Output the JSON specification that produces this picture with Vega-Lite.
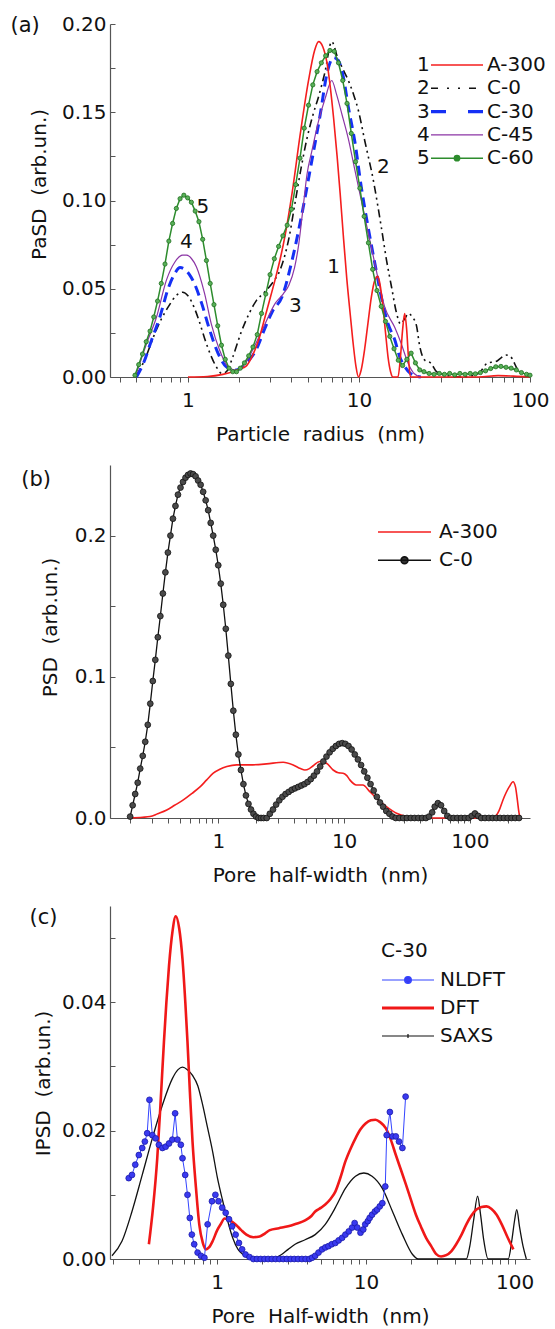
{
  "$schema": "https://vega.github.io/schema/vega-lite/v6.json",
  "background": "white",
  "padding": {"left": 10, "top": 14, "right": 5, "bottom": 5},
  "spacing": 21,
  "resolve": {"scale": {"color": "independent"}, "legend": {"color": "independent"}},
  "config": {
    "font": "DejaVu Sans",
    "view": {"stroke": null},
    "axis": {"grid": false, "domainColor": "#555", "domainWidth": 1.2, "tickColor": "#555", "tickWidth": 1, "labelColor": "#111", "titleColor": "#111", "labelFontSize": 20, "titleFontSize": 20, "titleFontWeight": "normal", "labelFlush": false, "labelOverlap": false, "labelBound": false},
    "axisX": {"tickSize": 5, "labelPadding": 8, "titlePadding": 14},
    "axisY": {"tickSize": -5, "labelPadding": 9},
    "legend": {"orient": "none", "padding": 0, "labelFontSize": 20, "labelColor": "#111", "titleColor": "#111", "titleFontSize": 20, "titleFontWeight": "normal", "symbolType": "stroke"},
    "title": {"anchor": "start", "frame": "bounds", "fontSize": 21, "fontWeight": "normal", "color": "#111", "baseline": "bottom"}
  },
  "datasets": {
    "aA": [{"x":1.0,"y":0},{"x":1.3,"y":0.0003},{"x":1.6,"y":0.0015},{"x":1.83,"y":0.003},{"x":2.0,"y":0.0045},{"x":2.18,"y":0.006},{"x":2.38,"y":0.012},{"x":2.61,"y":0.022},{"x":2.84,"y":0.035},{"x":3.05,"y":0.046},{"x":3.25,"y":0.056},{"x":3.5,"y":0.069},{"x":3.71,"y":0.081},{"x":4.06,"y":0.104},{"x":4.54,"y":0.138},{"x":5.07,"y":0.168},{"x":5.5,"y":0.185},{"x":5.81,"y":0.19},{"x":6.15,"y":0.187},{"x":6.5,"y":0.178},{"x":6.8,"y":0.164},{"x":7.1,"y":0.147},{"x":7.45,"y":0.125},{"x":7.76,"y":0.104},{"x":8.1,"y":0.08},{"x":8.48,"y":0.056},{"x":8.9,"y":0.035},{"x":9.27,"y":0.018},{"x":9.6,"y":0.006},{"x":9.92,"y":0},{"x":10.3,"y":0.004},{"x":10.8,"y":0.016},{"x":11.3,"y":0.031},{"x":11.8,"y":0.045},{"x":12.4,"y":0.055},{"x":12.9,"y":0.057},{"x":13.4,"y":0.05},{"x":13.8,"y":0.04},{"x":14.3,"y":0.025},{"x":14.8,"y":0.011},{"x":15.3,"y":0.003},{"x":15.8,"y":0},{"x":16.9,"y":0},{"x":17.5,"y":0.012},{"x":18.0,"y":0.027},{"x":18.5,"y":0.036},{"x":19.0,"y":0.027},{"x":19.5,"y":0.01},{"x":20.0,"y":0},{"x":30,"y":0},{"x":50,"y":0},{"x":65,"y":0.0008},{"x":80,"y":0.0005},{"x":100,"y":0}],
    "aC0": [{"x":0.5,"y":0.001},{"x":0.56,"y":0.01},{"x":0.63,"y":0.023},{"x":0.7,"y":0.033},{"x":0.77,"y":0.04},{"x":0.85,"y":0.046},{"x":0.93,"y":0.048},{"x":1.0,"y":0.046},{"x":1.08,"y":0.04},{"x":1.16,"y":0.032},{"x":1.25,"y":0.022},{"x":1.35,"y":0.013},{"x":1.46,"y":0.006},{"x":1.58,"y":0.002},{"x":1.68,"y":0.003},{"x":1.83,"y":0.0115},{"x":2.04,"y":0.025},{"x":2.28,"y":0.036},{"x":2.5,"y":0.043},{"x":2.8,"y":0.048},{"x":3.1,"y":0.053},{"x":3.5,"y":0.062},{"x":3.9,"y":0.079},{"x":4.25,"y":0.1},{"x":4.6,"y":0.119},{"x":4.96,"y":0.135},{"x":5.4,"y":0.149},{"x":5.81,"y":0.159},{"x":6.3,"y":0.172},{"x":6.93,"y":0.19},{"x":7.5,"y":0.181},{"x":8.0,"y":0.175},{"x":8.66,"y":0.168},{"x":9.3,"y":0.16},{"x":9.92,"y":0.151},{"x":10.8,"y":0.134},{"x":12.1,"y":0.112},{"x":13.5,"y":0.085},{"x":14.5,"y":0.066},{"x":15.5,"y":0.051},{"x":16.6,"y":0.036},{"x":17.5,"y":0.03},{"x":18.5,"y":0.033},{"x":19.5,"y":0.036},{"x":20.5,"y":0.034},{"x":21.7,"y":0.029},{"x":22.6,"y":0.018},{"x":24.2,"y":0.0096},{"x":26.4,"y":0.0077},{"x":28.4,"y":0.003},{"x":32,"y":0.001},{"x":40,"y":0},{"x":50,"y":0.002},{"x":56.6,"y":0.008},{"x":63,"y":0.0087},{"x":68,"y":0.011},{"x":72.3,"y":0.0125},{"x":77,"y":0.0115},{"x":85,"y":0.004},{"x":95,"y":0.001}],
    "aC30": [{"x":0.5,"y":0},{"x":0.55,"y":0.008},{"x":0.613,"y":0.021},{"x":0.685,"y":0.034},{"x":0.765,"y":0.05},{"x":0.83,"y":0.058},{"x":0.9,"y":0.062},{"x":0.957,"y":0.061},{"x":1.02,"y":0.058},{"x":1.09,"y":0.053},{"x":1.2,"y":0.042},{"x":1.34,"y":0.0266},{"x":1.5,"y":0.0134},{"x":1.67,"y":0.006},{"x":1.91,"y":0.004},{"x":2.18,"y":0.0077},{"x":2.5,"y":0.0153},{"x":2.8,"y":0.027},{"x":3.11,"y":0.037},{"x":3.55,"y":0.0455},{"x":4.06,"y":0.066},{"x":4.65,"y":0.093},{"x":5.31,"y":0.123},{"x":5.94,"y":0.149},{"x":6.5,"y":0.172},{"x":7.1,"y":0.181},{"x":7.6,"y":0.179},{"x":8.1,"y":0.17},{"x":8.66,"y":0.153},{"x":9.47,"y":0.133},{"x":10.3,"y":0.108},{"x":11.3,"y":0.085},{"x":12.4,"y":0.064},{"x":13.5,"y":0.0455},{"x":14.8,"y":0.03},{"x":16.2,"y":0.021},{"x":17.3,"y":0.0115},{"x":18.5,"y":0.006},{"x":20,"y":0.002},{"x":23,"y":0}],
    "aC45": [{"x":0.5,"y":0.002},{"x":0.573,"y":0.019},{"x":0.655,"y":0.034},{"x":0.749,"y":0.055},{"x":0.837,"y":0.065},{"x":0.93,"y":0.069},{"x":0.98,"y":0.069},{"x":1.05,"y":0.067},{"x":1.12,"y":0.0625},{"x":1.25,"y":0.0474},{"x":1.37,"y":0.03},{"x":1.53,"y":0.0153},{"x":1.71,"y":0.006},{"x":1.91,"y":0.004},{"x":2.1,"y":0.006},{"x":2.38,"y":0.015},{"x":2.73,"y":0.027},{"x":3.25,"y":0.042},{"x":3.6,"y":0.047},{"x":3.89,"y":0.052},{"x":4.2,"y":0.062},{"x":4.44,"y":0.075},{"x":4.7,"y":0.095},{"x":4.97,"y":0.115},{"x":5.3,"y":0.128},{"x":5.8,"y":0.145},{"x":6.35,"y":0.158},{"x":6.93,"y":0.168},{"x":7.4,"y":0.16},{"x":7.94,"y":0.149},{"x":8.66,"y":0.135},{"x":9.47,"y":0.117},{"x":10.8,"y":0.091},{"x":12.4,"y":0.064},{"x":14.1,"y":0.04},{"x":16.2,"y":0.028},{"x":17.5,"y":0.02},{"x":19.4,"y":0.0077},{"x":21,"y":0.002},{"x":23,"y":0}],
    "aC60": [{"x":0.49,"y":0.001},{"x":0.515,"y":0.007},{"x":0.542,"y":0.013},{"x":0.57,"y":0.02},{"x":0.6,"y":0.026},{"x":0.631,"y":0.034},{"x":0.664,"y":0.043},{"x":0.698,"y":0.053},{"x":0.734,"y":0.064},{"x":0.773,"y":0.077},{"x":0.813,"y":0.087},{"x":0.855,"y":0.0955},{"x":0.899,"y":0.101},{"x":0.946,"y":0.103},{"x":0.995,"y":0.1015},{"x":1.047,"y":0.099},{"x":1.102,"y":0.094},{"x":1.159,"y":0.088},{"x":1.219,"y":0.078},{"x":1.282,"y":0.066},{"x":1.349,"y":0.053},{"x":1.419,"y":0.041},{"x":1.493,"y":0.029},{"x":1.57,"y":0.018},{"x":1.652,"y":0.01},{"x":1.738,"y":0.005},{"x":1.828,"y":0.003},{"x":1.923,"y":0.003},{"x":2.023,"y":0.005},{"x":2.138,"y":0.008},{"x":2.265,"y":0.012},{"x":2.399,"y":0.017},{"x":2.541,"y":0.024},{"x":2.692,"y":0.036},{"x":2.851,"y":0.047},{"x":3.02,"y":0.058},{"x":3.199,"y":0.067},{"x":3.388,"y":0.074},{"x":3.589,"y":0.08},{"x":3.802,"y":0.086},{"x":4.027,"y":0.095},{"x":4.266,"y":0.109},{"x":4.519,"y":0.124},{"x":4.786,"y":0.141},{"x":5.07,"y":0.154},{"x":5.37,"y":0.1655},{"x":5.689,"y":0.173},{"x":6.026,"y":0.178},{"x":6.383,"y":0.182},{"x":6.761,"y":0.185},{"x":7.161,"y":0.1845},{"x":7.586,"y":0.178},{"x":8.035,"y":0.168},{"x":8.511,"y":0.155},{"x":9.016,"y":0.138},{"x":9.55,"y":0.122},{"x":10.12,"y":0.107},{"x":10.72,"y":0.091},{"x":11.35,"y":0.076},{"x":12.02,"y":0.061},{"x":12.74,"y":0.049},{"x":13.49,"y":0.04},{"x":14.29,"y":0.0315},{"x":15.14,"y":0.023},{"x":16.03,"y":0.016},{"x":16.98,"y":0.0095},{"x":17.99,"y":0.0065},{"x":19.05,"y":0.01},{"x":20.18,"y":0.0135},{"x":21.38,"y":0.008},{"x":22.65,"y":0.004},{"x":23.99,"y":0.003},{"x":25.7,"y":0.002},{"x":27.5,"y":0.0015},{"x":29.5,"y":0.002},{"x":31.6,"y":0.0015},{"x":33.9,"y":0.002},{"x":36.3,"y":0.0012},{"x":38.9,"y":0.002},{"x":41.7,"y":0.0015},{"x":44.7,"y":0.002},{"x":47.9,"y":0.0018},{"x":51.3,"y":0.0025},{"x":55.0,"y":0.0035},{"x":58.9,"y":0.0048},{"x":63.1,"y":0.0058},{"x":67.6,"y":0.006},{"x":72.4,"y":0.0055},{"x":77.6,"y":0.005},{"x":83.2,"y":0.004},{"x":89.1,"y":0.0025},{"x":95.5,"y":0.0015},{"x":100,"y":0.001}],
    "aNum": [{"x":7.1,"y":0.0625,"t":"1"},{"x":13.9,"y":0.119,"t":"2"},{"x":4.25,"y":0.04,"t":"3"},{"x":0.98,"y":0.0767,"t":"4"},{"x":1.22,"y":0.0965,"t":"5"}],
    "bA": [{"x":0.2,"y":0},{"x":0.25,"y":0.0005},{"x":0.287,"y":0.001},{"x":0.33,"y":0.003},{"x":0.39,"y":0.0057},{"x":0.45,"y":0.009},{"x":0.528,"y":0.0128},{"x":0.62,"y":0.0175},{"x":0.716,"y":0.022},{"x":0.81,"y":0.027},{"x":0.913,"y":0.0317},{"x":1.03,"y":0.0345},{"x":1.17,"y":0.0364},{"x":1.4,"y":0.0376},{"x":1.79,"y":0.0376},{"x":2.42,"y":0.0383},{"x":3.28,"y":0.0395},{"x":3.94,"y":0.0376},{"x":4.5,"y":0.035},{"x":4.88,"y":0.034},{"x":5.3,"y":0.035},{"x":5.68,"y":0.037},{"x":6.41,"y":0.04},{"x":7.24,"y":0.0388},{"x":8.18,"y":0.034},{"x":9.0,"y":0.032},{"x":9.82,"y":0.0317},{"x":10.5,"y":0.03},{"x":11.1,"y":0.027},{"x":12.5,"y":0.0234},{"x":14.1,"y":0.0234},{"x":16.0,"y":0.0187},{"x":18.1,"y":0.014},{"x":21.7,"y":0.008},{"x":26.1,"y":0.0033},{"x":31.2,"y":0.001},{"x":40,"y":0},{"x":60,"y":0},{"x":100,"y":0},{"x":152,"y":0},{"x":170,"y":0.005},{"x":183,"y":0.0128},{"x":205,"y":0.022},{"x":220,"y":0.0257},{"x":230,"y":0.022},{"x":238,"y":0.0128},{"x":245,"y":0.004},{"x":250,"y":0}],
    "bC0": [{"x":0.1995,"y":0.001},{"x":0.2089,"y":0.009},{"x":0.2188,"y":0.017},{"x":0.2291,"y":0.025},{"x":0.2399,"y":0.035},{"x":0.2512,"y":0.044},{"x":0.263,"y":0.054},{"x":0.2754,"y":0.066},{"x":0.2884,"y":0.081},{"x":0.302,"y":0.097},{"x":0.3162,"y":0.112},{"x":0.3311,"y":0.128},{"x":0.3467,"y":0.143},{"x":0.3631,"y":0.159},{"x":0.3802,"y":0.174},{"x":0.3981,"y":0.188},{"x":0.4169,"y":0.2},{"x":0.4365,"y":0.212},{"x":0.4571,"y":0.221},{"x":0.4786,"y":0.229},{"x":0.5012,"y":0.234},{"x":0.5248,"y":0.238},{"x":0.5495,"y":0.241},{"x":0.5754,"y":0.243},{"x":0.6026,"y":0.244},{"x":0.631,"y":0.2435},{"x":0.6607,"y":0.242},{"x":0.6918,"y":0.239},{"x":0.7244,"y":0.236},{"x":0.7586,"y":0.231},{"x":0.7943,"y":0.225},{"x":0.8318,"y":0.218},{"x":0.871,"y":0.209},{"x":0.912,"y":0.2},{"x":0.955,"y":0.19},{"x":1.0,"y":0.179},{"x":1.047,"y":0.166},{"x":1.096,"y":0.151},{"x":1.148,"y":0.134},{"x":1.202,"y":0.115},{"x":1.259,"y":0.095},{"x":1.318,"y":0.076},{"x":1.38,"y":0.059},{"x":1.445,"y":0.045},{"x":1.514,"y":0.034},{"x":1.585,"y":0.024},{"x":1.66,"y":0.016},{"x":1.738,"y":0.01},{"x":1.82,"y":0.006},{"x":1.905,"y":0.003},{"x":1.995,"y":0.001},{"x":2.089,"y":0},{"x":2.188,"y":0},{"x":2.291,"y":0},{"x":2.427,"y":0},{"x":2.57,"y":0.003},{"x":2.723,"y":0.006},{"x":2.884,"y":0.0095},{"x":3.055,"y":0.0125},{"x":3.236,"y":0.015},{"x":3.428,"y":0.017},{"x":3.631,"y":0.0185},{"x":3.846,"y":0.02},{"x":4.074,"y":0.021},{"x":4.315,"y":0.022},{"x":4.571,"y":0.023},{"x":4.842,"y":0.024},{"x":5.129,"y":0.0255},{"x":5.433,"y":0.0275},{"x":5.754,"y":0.03},{"x":6.095,"y":0.033},{"x":6.457,"y":0.0365},{"x":6.839,"y":0.04},{"x":7.244,"y":0.0435},{"x":7.674,"y":0.0465},{"x":8.128,"y":0.049},{"x":8.61,"y":0.051},{"x":9.12,"y":0.0525},{"x":9.661,"y":0.053},{"x":10.23,"y":0.0525},{"x":10.84,"y":0.051},{"x":11.48,"y":0.0485},{"x":12.16,"y":0.045},{"x":12.88,"y":0.0415},{"x":13.65,"y":0.0375},{"x":14.45,"y":0.033},{"x":15.31,"y":0.0285},{"x":16.22,"y":0.024},{"x":17.18,"y":0.0195},{"x":18.2,"y":0.015},{"x":19.28,"y":0.011},{"x":20.42,"y":0.008},{"x":21.63,"y":0.005},{"x":22.91,"y":0.003},{"x":24.27,"y":0.001},{"x":25.7,"y":0},{"x":27.5,"y":0},{"x":29.5,"y":0},{"x":31.6,"y":0},{"x":33.9,"y":0},{"x":36.3,"y":0},{"x":38.9,"y":0},{"x":41.7,"y":0},{"x":44.7,"y":0},{"x":47.3,"y":0.001},{"x":50.1,"y":0.004},{"x":52.5,"y":0.008},{"x":55.6,"y":0.0105},{"x":58.9,"y":0.009},{"x":62.4,"y":0.005},{"x":66.1,"y":0.0015},{"x":70.0,"y":0},{"x":74.1,"y":0},{"x":79.4,"y":0},{"x":85.1,"y":0},{"x":91.2,"y":0},{"x":97.7,"y":0},{"x":103.5,"y":0.0015},{"x":109.6,"y":0.0032},{"x":116.1,"y":0.0015},{"x":123,"y":0},{"x":131.8,"y":0},{"x":141.3,"y":0},{"x":151.4,"y":0},{"x":162.2,"y":0},{"x":173.8,"y":0},{"x":186.2,"y":0},{"x":199.5,"y":0},{"x":213.8,"y":0},{"x":229.1,"y":0},{"x":245.5,"y":0}],
    "cS": [{"x":0.196,"y":0.0005},{"x":0.229,"y":0.0028},{"x":0.267,"y":0.0074},{"x":0.313,"y":0.0131},{"x":0.366,"y":0.0188},{"x":0.428,"y":0.024},{"x":0.499,"y":0.0281},{"x":0.545,"y":0.0295},{"x":0.584,"y":0.0299},{"x":0.63,"y":0.0295},{"x":0.682,"y":0.0286},{"x":0.74,"y":0.027},{"x":0.798,"y":0.024},{"x":0.86,"y":0.0205},{"x":0.932,"y":0.0167},{"x":1.0,"y":0.0128},{"x":1.09,"y":0.009},{"x":1.18,"y":0.0058},{"x":1.27,"y":0.0033},{"x":1.38,"y":0.0015},{"x":1.49,"y":0.0007},{"x":1.6,"y":0.0002},{"x":1.8,"y":0},{"x":2.2,"y":0},{"x":2.71,"y":0.0007},{"x":3.0,"y":0.0015},{"x":3.34,"y":0.0023},{"x":3.9,"y":0.003},{"x":4.56,"y":0.0038},{"x":5.33,"y":0.0054},{"x":6.23,"y":0.008},{"x":7.28,"y":0.011},{"x":8.51,"y":0.0129},{"x":9.69,"y":0.0134},{"x":11.0,"y":0.0129},{"x":12.9,"y":0.011},{"x":15.1,"y":0.0074},{"x":17.6,"y":0.0038},{"x":20.6,"y":0.0007},{"x":22.5,"y":0},{"x":30,"y":0},{"x":47.4,"y":0},{"x":50,"y":0.002},{"x":53,"y":0.006},{"x":56.4,"y":0.0098},{"x":59,"y":0.007},{"x":62,"y":0.003},{"x":66.4,"y":0},{"x":80,"y":0},{"x":90.7,"y":0},{"x":96,"y":0.003},{"x":100,"y":0.006},{"x":103.5,"y":0.0077},{"x":108,"y":0.005},{"x":114,"y":0.002},{"x":120,"y":0}],
    "cD": [{"x":0.347,"y":0.0023},{"x":0.37,"y":0.008},{"x":0.395,"y":0.0157},{"x":0.415,"y":0.024},{"x":0.438,"y":0.0338},{"x":0.455,"y":0.04},{"x":0.474,"y":0.0457},{"x":0.5,"y":0.051},{"x":0.526,"y":0.0534},{"x":0.555,"y":0.0515},{"x":0.584,"y":0.0467},{"x":0.61,"y":0.04},{"x":0.631,"y":0.0338},{"x":0.655,"y":0.026},{"x":0.682,"y":0.0183},{"x":0.72,"y":0.011},{"x":0.757,"y":0.0054},{"x":0.8,"y":0.0025},{"x":0.84,"y":0.0015},{"x":0.88,"y":0.0018},{"x":0.932,"y":0.0028},{"x":1.0,"y":0.0045},{"x":1.06,"y":0.0055},{"x":1.12,"y":0.0063},{"x":1.18,"y":0.0062},{"x":1.26,"y":0.0058},{"x":1.34,"y":0.0053},{"x":1.45,"y":0.0045},{"x":1.57,"y":0.0038},{"x":1.75,"y":0.0034},{"x":1.93,"y":0.0035},{"x":2.1,"y":0.004},{"x":2.26,"y":0.0045},{"x":2.6,"y":0.0048},{"x":3.0,"y":0.0051},{"x":3.4,"y":0.0055},{"x":3.9,"y":0.006},{"x":4.3,"y":0.0067},{"x":4.56,"y":0.0074},{"x":5.0,"y":0.008},{"x":5.33,"y":0.0085},{"x":5.8,"y":0.0094},{"x":6.23,"y":0.0105},{"x":6.7,"y":0.0125},{"x":7.28,"y":0.0152},{"x":8.0,"y":0.0175},{"x":8.51,"y":0.0188},{"x":9.2,"y":0.0202},{"x":9.95,"y":0.0211},{"x":10.8,"y":0.0216},{"x":11.6,"y":0.0217},{"x":12.5,"y":0.0213},{"x":13.6,"y":0.0204},{"x":14.7,"y":0.0186},{"x":15.9,"y":0.0162},{"x":17.2,"y":0.0139},{"x":18.6,"y":0.0116},{"x":20.1,"y":0.0092},{"x":21.7,"y":0.0069},{"x":23.5,"y":0.005},{"x":25.4,"y":0.0033},{"x":27.5,"y":0.002},{"x":29.6,"y":0.0008},{"x":32,"y":0.0004},{"x":34.7,"y":0.0006},{"x":37.5,"y":0.0012},{"x":40.5,"y":0.0023},{"x":44,"y":0.0038},{"x":47.4,"y":0.0054},{"x":51,"y":0.0067},{"x":55.4,"y":0.0077},{"x":60,"y":0.0081},{"x":64.8,"y":0.0082},{"x":70,"y":0.0078},{"x":75.7,"y":0.0069},{"x":82,"y":0.0054},{"x":90,"y":0.0033},{"x":98.2,"y":0.0015}],
    "cN": [{"x":0.254,"y":0.0126},{"x":0.267,"y":0.0131},{"x":0.281,"y":0.0147},{"x":0.297,"y":0.0162},{"x":0.313,"y":0.0173},{"x":0.326,"y":0.0183},{"x":0.338,"y":0.0196},{"x":0.35,"y":0.0248},{"x":0.366,"y":0.0193},{"x":0.385,"y":0.0188},{"x":0.405,"y":0.0178},{"x":0.428,"y":0.0173},{"x":0.45,"y":0.0175},{"x":0.474,"y":0.018},{"x":0.499,"y":0.0186},{"x":0.521,"y":0.0227},{"x":0.54,"y":0.0186},{"x":0.569,"y":0.0178},{"x":0.584,"y":0.0157},{"x":0.609,"y":0.0131},{"x":0.631,"y":0.01},{"x":0.654,"y":0.0064},{"x":0.675,"y":0.0038},{"x":0.7,"y":0.0023},{"x":0.738,"y":0.001},{"x":0.777,"y":0.0005},{"x":0.82,"y":0.0002},{"x":0.862,"y":0.0054},{"x":0.922,"y":0.009},{"x":0.972,"y":0.01},{"x":1.02,"y":0.009},{"x":1.08,"y":0.008},{"x":1.14,"y":0.0072},{"x":1.2,"y":0.0062},{"x":1.26,"y":0.0051},{"x":1.33,"y":0.0038},{"x":1.4,"y":0.0025},{"x":1.47,"y":0.0015},{"x":1.55,"y":0.0007},{"x":1.65,"y":0.0003},{"x":1.75,"y":0},{"x":1.85,"y":0},{"x":1.96,"y":0},{"x":2.08,"y":0},{"x":2.2,"y":0},{"x":2.33,"y":0},{"x":2.47,"y":0},{"x":2.62,"y":0},{"x":2.78,"y":0},{"x":2.94,"y":0},{"x":3.12,"y":0},{"x":3.3,"y":0},{"x":3.5,"y":0},{"x":3.71,"y":0},{"x":3.93,"y":0},{"x":4.17,"y":0},{"x":4.35,"y":0.0002},{"x":4.56,"y":0.0005},{"x":4.8,"y":0.001},{"x":5.07,"y":0.0015},{"x":5.33,"y":0.0018},{"x":5.6,"y":0.002},{"x":5.9,"y":0.0023},{"x":6.23,"y":0.0025},{"x":6.56,"y":0.0029},{"x":6.92,"y":0.0033},{"x":7.28,"y":0.0038},{"x":7.67,"y":0.0043},{"x":8.08,"y":0.0049},{"x":8.4,"y":0.0056},{"x":8.75,"y":0.0049},{"x":9.2,"y":0.0041},{"x":9.6,"y":0.0046},{"x":9.9,"y":0.0054},{"x":10.3,"y":0.0059},{"x":10.6,"y":0.0064},{"x":11.0,"y":0.0069},{"x":11.5,"y":0.0074},{"x":11.9,"y":0.0077},{"x":12.4,"y":0.0082},{"x":12.9,"y":0.0087},{"x":13.5,"y":0.0113},{"x":13.8,"y":0.0193},{"x":14.5,"y":0.0229},{"x":15.1,"y":0.0191},{"x":15.9,"y":0.0191},{"x":16.7,"y":0.0183},{"x":17.6,"y":0.0173},{"x":18.5,"y":0.0253}]
  },
  "vconcat": [
    {
      "width": 420,
      "height": 353,
      "title": {"text": "(a)", "offset": -22, "dx": -19},
      "layer": [
        {
          "data": {"name": "aC0"},
          "mark": {"type": "line", "strokeWidth": 1.6, "strokeDash": [8, 4, 2, 4, 2, 4], "interpolate": "monotone"},
          "encoding": {
            "x": {"field": "x", "type": "quantitative", "scale": {"type": "log", "domain": [0.35, 100], "nice": false},
              "axis": {"title": "Particle\u00a0 radius\u00a0 (nm)", "values": [0.4,0.5,0.6,0.7,0.8,0.9,1,2,3,4,5,6,7,8,9,10,20,30,40,50,60,70,80,90,100], "labelExpr": "datum.value == 1 || datum.value == 10 || datum.value == 100 ? format(datum.value, '~g') : ''"}},
            "y": {"field": "y", "type": "quantitative", "scale": {"domain": [0, 0.2], "nice": false},
              "axis": {"title": "PaSD\u00a0 (arb.un.)", "values": [0,0.025,0.05,0.075,0.1,0.125,0.15,0.175,0.2], "labelExpr": "abs(round(datum.value * 20) - datum.value * 20) < 0.001 ? format(datum.value, '.2f') : ''", "titlePadding": 12, "titleY": 160}},
            "color": {"datum": "C-0", "type": "nominal",
              "scale": {"domain": ["A-300", "C-0", "C-30", "C-45", "C-60"], "range": ["#f41e1e", "#111111", "#1530f5", "#8b35a5", "#2d8c2d"]},
              "legend": {
                "title": ["1", "2", "3", "4", "5"], "titleOrient": "left", "titleAnchor": "start", "titleBaseline": "top", "titleLineHeight": 23.3, "titlePadding": 0,
                "legendX": 307, "legendY": 31, "symbolSize": 2704, "clipHeight": 20, "rowPadding": 3.3, "labelOffset": 3,
                "encode": {"symbols": {"update": {
                  "shape": {"signal": "(datum.value == 'C-60' ? 'M-1,0H1M-0.1,0A0.1,0.1,0,1,1,0.1,0A0.1,0.1,0,1,1,-0.1,0Z' : 'stroke')"},
                  "strokeDash": {"signal": "(datum.value == 'C-0' ? [7,9,2,9,2,9] : datum.value == 'C-30' ? [15,22] : [])"},
                  "strokeWidth": {"signal": "(datum.value == 'C-30' ? 3.2 : datum.value == 'C-45' ? 1.2 : 1.6)"},
                  "fill": {"signal": "(datum.value == 'C-60' ? '#2d8c2d' : 'transparent')"}
                }}}
              }}
          }
        },
        {
          "data": {"name": "aC30"},
          "mark": {"type": "line", "strokeWidth": 3, "strokeDash": [10, 6], "interpolate": "monotone"},
          "encoding": {"x": {"field": "x", "type": "quantitative"}, "y": {"field": "y", "type": "quantitative"}, "color": {"datum": "C-30", "type": "nominal"}}
        },
        {
          "data": {"name": "aC45"},
          "mark": {"type": "line", "strokeWidth": 1.2, "interpolate": "monotone"},
          "encoding": {"x": {"field": "x", "type": "quantitative"}, "y": {"field": "y", "type": "quantitative"}, "color": {"datum": "C-45", "type": "nominal"}}
        },
        {
          "data": {"name": "aA"},
          "mark": {"type": "line", "strokeWidth": 1.6, "interpolate": "monotone"},
          "encoding": {"x": {"field": "x", "type": "quantitative"}, "y": {"field": "y", "type": "quantitative"}, "color": {"datum": "A-300", "type": "nominal"}}
        },
        {
          "data": {"name": "aC60"},
          "mark": {"type": "line", "strokeWidth": 1.5},
          "encoding": {"x": {"field": "x", "type": "quantitative"}, "y": {"field": "y", "type": "quantitative"}, "color": {"datum": "C-60", "type": "nominal"}}
        },
        {
          "data": {"name": "aC60"},
          "mark": {"type": "point", "filled": true, "size": 18, "fill": "#58b058", "stroke": "#1f6f1f", "strokeWidth": 0.8, "opacity": 1},
          "encoding": {"x": {"field": "x", "type": "quantitative"}, "y": {"field": "y", "type": "quantitative"}}
        },
        {
          "data": {"name": "aNum"},
          "mark": {"type": "text", "fontSize": 20, "color": "#111"},
          "encoding": {"x": {"field": "x", "type": "quantitative"}, "y": {"field": "y", "type": "quantitative"}, "text": {"field": "t"}}
        }
      ]
    },
    {
      "width": 420,
      "height": 353,
      "title": {"text": "(b)", "offset": -25, "dx": -19},
      "layer": [
        {
          "data": {"name": "bA"},
          "mark": {"type": "line", "strokeWidth": 1.6, "interpolate": "monotone"},
          "encoding": {
            "x": {"field": "x", "type": "quantitative", "scale": {"type": "log", "domain": [0.138, 300], "nice": false},
              "axis": {"title": "Pore\u00a0 half-width\u00a0 (nm)", "values": [0.2,0.3,0.4,0.5,0.6,0.7,0.8,0.9,1,2,3,4,5,6,7,8,9,10,20,30,40,50,60,70,80,90,100,200], "labelExpr": "datum.value == 1 || datum.value == 10 || datum.value == 100 ? format(datum.value, '~g') : ''"}},
            "y": {"field": "y", "type": "quantitative", "scale": {"domain": [0, 0.25], "nice": false},
              "axis": {"title": "PSD\u00a0 (arb.un.)", "values": [0,0.05,0.1,0.15,0.2], "labelExpr": "abs(round(datum.value * 10) - datum.value * 10) < 0.001 ? format(datum.value, '.1f') : ''", "titlePadding": 14, "titleY": 162}},
            "color": {"datum": "A-300", "type": "nominal",
              "scale": {"domain": ["A-300", "C-0"], "range": ["#f41e1e", "#111111"]},
              "legend": {
                "title": null, "legendX": 267, "legendY": 56, "symbolSize": 2809, "clipHeight": 22, "rowPadding": 6.3, "labelOffset": 7,
                "encode": {"symbols": {"update": {
                  "shape": {"signal": "(datum.value == 'C-0' ? 'M-1,0H1M-0.13,0A0.13,0.13,0,1,1,0.13,0A0.13,0.13,0,1,1,-0.13,0Z' : 'stroke')"},
                  "strokeWidth": {"value": 1.6},
                  "fill": {"signal": "(datum.value == 'C-0' ? '#333333' : 'transparent')"}
                }}}
              }}
          }
        },
        {
          "data": {"name": "bC0"},
          "mark": {"type": "line", "strokeWidth": 1.3},
          "encoding": {"x": {"field": "x", "type": "quantitative"}, "y": {"field": "y", "type": "quantitative"}, "color": {"datum": "C-0", "type": "nominal"}}
        },
        {
          "data": {"name": "bC0"},
          "mark": {"type": "point", "filled": true, "size": 34, "fill": "#4a4a4a", "stroke": "#111111", "strokeWidth": 0.8, "opacity": 1},
          "encoding": {"x": {"field": "x", "type": "quantitative"}, "y": {"field": "y", "type": "quantitative"}}
        }
      ]
    },
    {
      "width": 420,
      "height": 353,
      "title": {"text": "(c)", "offset": -22, "dx": -4},
      "layer": [
        {
          "data": {"name": "cS"},
          "mark": {"type": "line", "strokeWidth": 1.3, "interpolate": "monotone"},
          "encoding": {
            "x": {"field": "x", "type": "quantitative", "scale": {"type": "log", "domain": [0.19, 127], "nice": false},
              "axis": {"title": "Pore\u00a0 Half-width\u00a0 (nm)", "values": [0.2,0.3,0.4,0.5,0.6,0.7,0.8,0.9,1,2,3,4,5,6,7,8,9,10,20,30,40,50,60,70,80,90,100], "labelExpr": "datum.value == 1 || datum.value == 10 || datum.value == 100 ? format(datum.value, '~g') : ''"}},
            "y": {"field": "y", "type": "quantitative", "scale": {"domain": [0, 0.055], "nice": false},
              "axis": {"title": "IPSD\u00a0 (arb.un.)", "values": [0,0.01,0.02,0.03,0.04,0.05], "labelExpr": "abs(round(datum.value * 50) - datum.value * 50) < 0.001 ? format(datum.value, '.2f') : ''", "titlePadding": 8, "titleY": 177}},
            "color": {"datum": "SAXS", "type": "nominal",
              "scale": {"domain": ["NLDFT", "DFT", "SAXS"], "range": ["#3344ff", "#f01818", "#111111"]},
              "legend": {
                "title": "C-30", "titleAnchor": "start", "titlePadding": 8, "legendX": 271, "legendY": 35, "symbolSize": 2704, "clipHeight": 22, "rowPadding": 6, "labelOffset": 5,
                "encode": {"symbols": {"update": {
                  "shape": {"signal": "(datum.value == 'NLDFT' ? 'M-1,0H1M-0.13,0A0.13,0.13,0,1,1,0.13,0A0.13,0.13,0,1,1,-0.13,0Z' : datum.value == 'SAXS' ? 'M-1,0H1M0,-0.08V0.08' : 'stroke')"},
                  "strokeWidth": {"signal": "(datum.value == 'DFT' ? 3 : 1.2)"},
                  "fill": {"signal": "(datum.value == 'NLDFT' ? '#3a3af0' : 'transparent')"}
                }}}
              }}
          }
        },
        {
          "data": {"name": "cD"},
          "mark": {"type": "line", "strokeWidth": 2.6, "interpolate": "monotone"},
          "encoding": {"x": {"field": "x", "type": "quantitative"}, "y": {"field": "y", "type": "quantitative"}, "color": {"datum": "DFT", "type": "nominal"}}
        },
        {
          "data": {"name": "cN"},
          "mark": {"type": "line", "strokeWidth": 1},
          "encoding": {"x": {"field": "x", "type": "quantitative"}, "y": {"field": "y", "type": "quantitative"}, "color": {"datum": "NLDFT", "type": "nominal"}}
        },
        {
          "data": {"name": "cN"},
          "mark": {"type": "point", "filled": true, "size": 34, "fill": "#3a3af0", "stroke": "#1a1aa8", "strokeWidth": 0.8, "opacity": 1},
          "encoding": {"x": {"field": "x", "type": "quantitative"}, "y": {"field": "y", "type": "quantitative"}}
        }
      ]
    }
  ]
}
